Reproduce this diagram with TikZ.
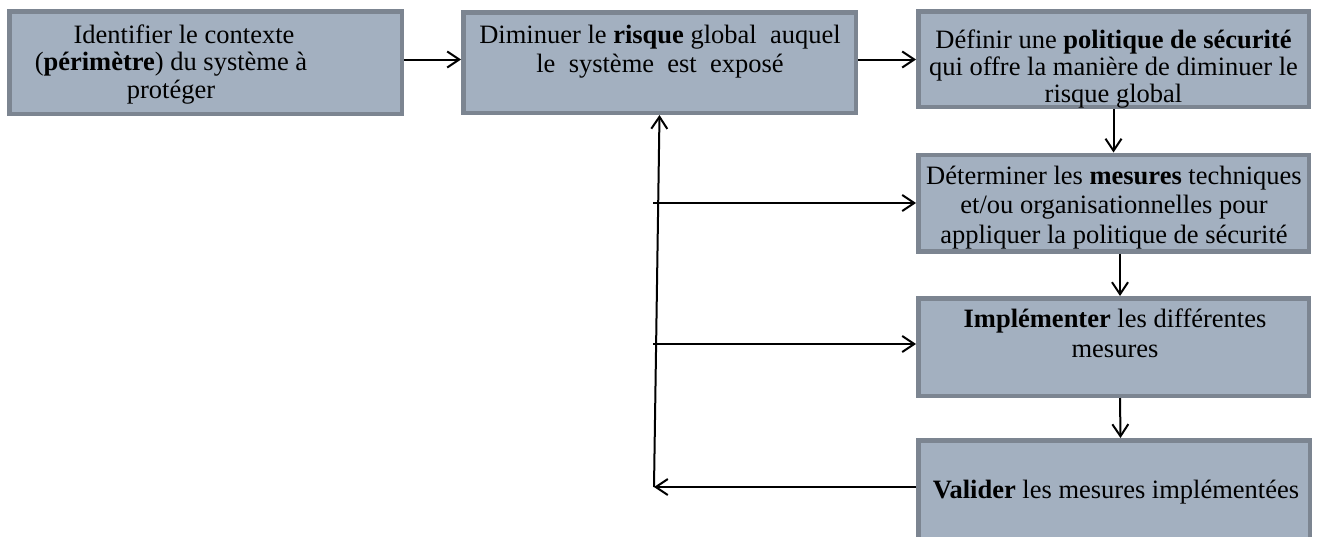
\documentclass[tikz,border=0pt]{standalone}
\usepackage{fontspec}
\setmainfont{Liberation Serif}
\usetikzlibrary{arrows.meta}
\definecolor{boxfill}{RGB}{163,176,192}
\definecolor{boxline}{RGB}{124,133,145}

\begin{document}
\begin{tikzpicture}[x=1pt,y=-1pt,
  box/.style={draw=boxline, fill=boxfill, line width=4.5pt, rectangle, inner sep=0pt},
  txt/.style={inner sep=0pt, anchor=north, align=center, font=\fontsize{26.5}{#1}\selectfont},
  txt/.default=28,
  arr/.style={line width=2pt, -{Straight Barb[length=12pt,width=16pt]}}]

\useasboundingbox (0,0) rectangle (1317,536);

% process boxes
\node[box, minimum width=392.5pt, minimum height=102.5pt] (b1) at (205.5,62.5) {};
\node[box, minimum width=392.5pt, minimum height=100.5pt] (b2) at (659.5,62.5) {};
\node[box, minimum width=390.5pt, minimum height=95.5pt]  (b3) at (1113.5,59) {};
\node[box, minimum width=390.5pt, minimum height=96.5pt]  (b4) at (1113.5,203) {};
\node[box, minimum width=390.5pt, minimum height=97.5pt]  (b5) at (1113.5,347) {};
\node[box, minimum width=391.5pt, minimum height=98.5pt]  (b6) at (1114,489.5) {};

% box texts
\node[txt=27.5] (t1) at (171,23.75)
  {\strut\hspace*{26pt}Identifier le contexte\\(\textbf{périmètre}) du système à\\protéger};
\node[txt=29] (t2) at (660,22.7)
  {\strut Diminuer le \textbf{risque} global\ \ auquel\\le\ \ système\ \ est\ \ exposé};
\node[txt=27] (t3) at (1113.5,29.1)
  {\strut Définir une \textbf{politique de sécurité}\\qui offre la manière de diminuer le\\risque global};
\node[txt=29.5] (t4) at (1114,163.35)
  {\strut Déterminer les \textbf{mesures} techniques\\et/ou organisationnelles pour\\appliquer la politique de sécurité};
\node[txt=30] (t5) at (1115,306)
  {\strut\textbf{Implémenter} les différentes\\mesures};
\node[txt=28] (t6) at (1116,478.4)
  {\strut\textbf{Valider} les mesures implémentées};

% feedback loop points
\coordinate (fb) at (654,487);
\coordinate (f4) at (653,203);
\coordinate (f5) at (653,344);

% main flow
\draw[arr] ([yshift=3pt]b1.east) -- ([yshift=3pt]b1.east -| b2.west);
\draw[arr] ([yshift=3pt]b2.east) -- ([yshift=3pt]b2.east -| b3.west);
\draw[arr] (b3.south) -- (b4.north);
\draw[arr] ([xshift=6.5pt]b4.south) -- ([xshift=6.5pt]b5.north);
\draw[arr] ([xshift=6.5pt]b5.south) -- ([xshift=6.5pt]b6.north);

% feedback
\draw[arr] (b6.west |- fb) -- (fb);
\draw[arr] (fb) -- (b2.south);
\draw[arr] (f4) -- (f4 -| b4.west);
\draw[arr] (f5) -- (f5 -| b5.west);
\end{tikzpicture}
\end{document}
